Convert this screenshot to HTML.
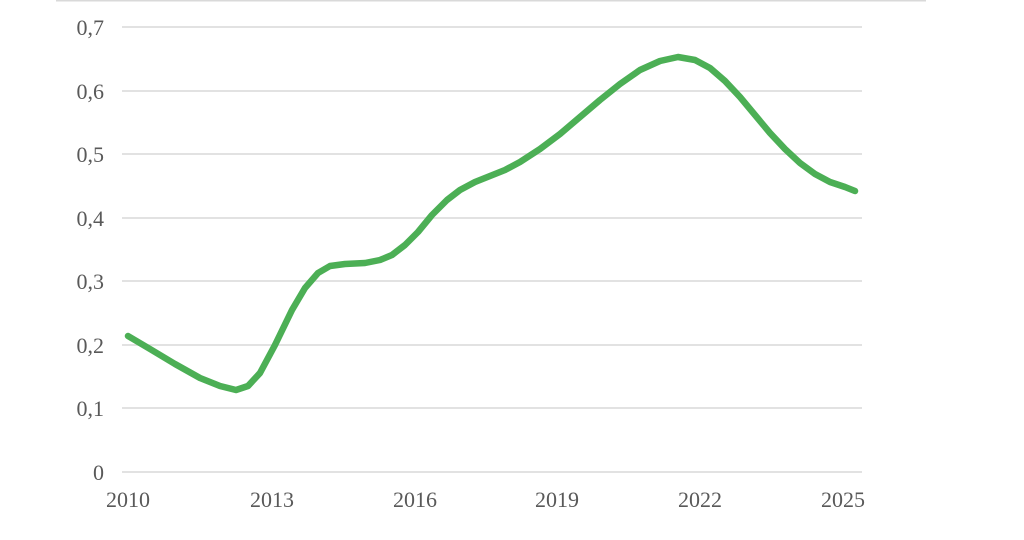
<!DOCTYPE html>
<html><head><meta charset="utf-8"><style>
html,body{margin:0;padding:0;background:#fff;}
svg{display:block;}
text{font-family:"Liberation Serif",serif;font-size:22px;fill:#595959;}
</style></head><body>
<svg width="1024" height="540" viewBox="0 0 1024 540">
<line x1="56" y1="0.5" x2="926" y2="0.5" stroke="#d9d9d9" stroke-width="2"/>
<g stroke="#d9d9d9" stroke-width="1.5">
<line x1="122" y1="27" x2="862" y2="27"/>
<line x1="122" y1="91" x2="862" y2="91"/>
<line x1="122" y1="154" x2="862" y2="154"/>
<line x1="122" y1="218" x2="862" y2="218"/>
<line x1="122" y1="281" x2="862" y2="281"/>
<line x1="122" y1="345" x2="862" y2="345"/>
<line x1="122" y1="408" x2="862" y2="408"/>
<line x1="122" y1="472" x2="862" y2="472"/>
</g>
<g text-anchor="end">
<text x="104" y="35">0,7</text>
<text x="104" y="99">0,6</text>
<text x="104" y="162">0,5</text>
<text x="104" y="226">0,4</text>
<text x="104" y="289">0,3</text>
<text x="104" y="353">0,2</text>
<text x="104" y="416">0,1</text>
<text x="104" y="480">0</text>
</g>
<g text-anchor="middle">
<text x="128" y="507">2010</text>
<text x="272" y="507">2013</text>
<text x="415" y="507">2016</text>
<text x="557" y="507">2019</text>
<text x="700" y="507">2022</text>
<text x="843" y="507">2025</text>
</g>
<polyline fill="none" stroke="#4caf55" stroke-width="6.5" stroke-linejoin="round" stroke-linecap="round"
points="128,336 150,349 175,364 200,378 220,386 236,390 248,386 260,373 275,345 292,310 305,288 318,273 330,266 345,264 365,263 380,260 392,255 405,245 418,232 432,215 447,200 460,190 475,182 490,176 505,170 520,162 540,149 560,134 580,117 600,100 620,84 640,70 660,61 678,57 695,60 710,68 725,81 740,97 755,115 770,133 785,149 800,163 815,174 830,182 845,187 855,191"/>
</svg>
</body></html>
